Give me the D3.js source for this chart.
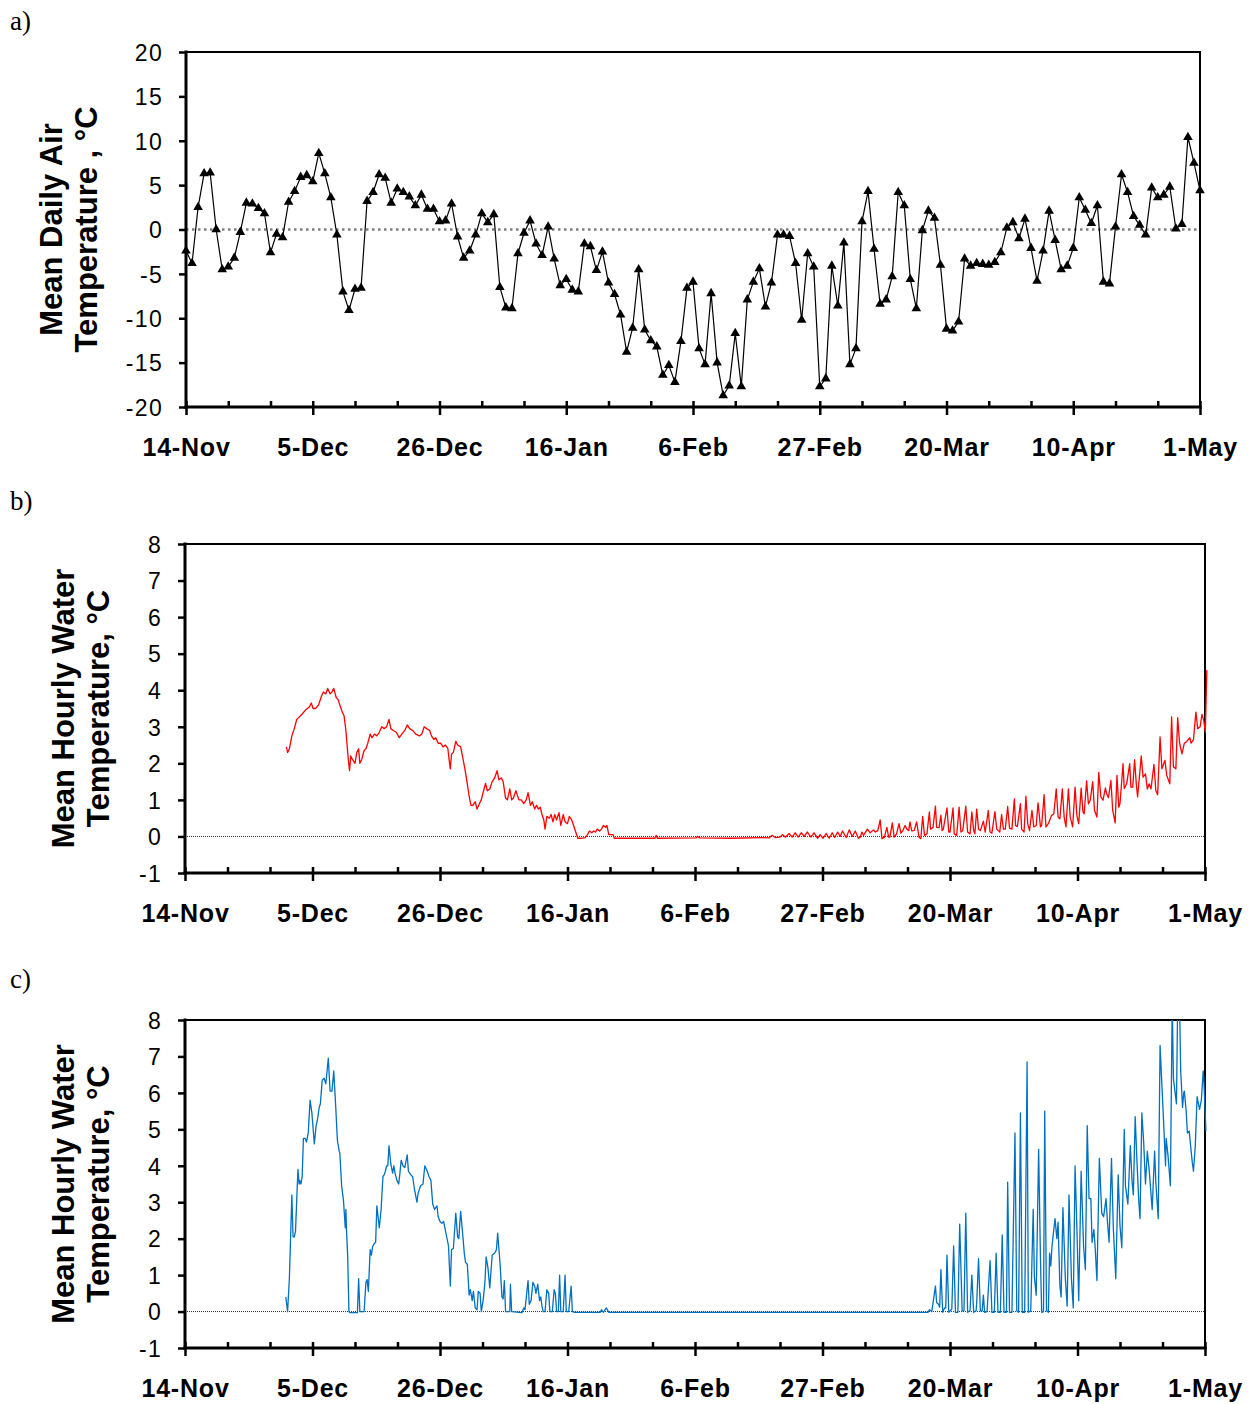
<!DOCTYPE html>
<html>
<head>
<meta charset="utf-8">
<script src="https://cdn.jsdelivr.net/npm/d3@7"></script>
<style>
  body { margin: 0; background: #fff; }
  svg text { font-family: Arial, "Liberation Sans", sans-serif; fill: #000; }
</style>
</head>
<body>
<svg id="chart" width="1251" height="1404"></svg>
<script>
// x axis: days since 14-Nov
var dayTicks = [0, 21, 42, 63, 84, 105, 126, 147, 168];
var dayTickLabels = ["14-Nov", "5-Dec", "26-Dec", "16-Jan", "6-Feb", "27-Feb", "20-Mar", "10-Apr", "1-May"];
var minorDayTicks = [7, 14, 28, 35, 49, 56, 70, 77, 91, 98, 112, 119, 133, 140, 154, 161];

var airTicks = [-20, -15, -10, -5, 0, 5, 10, 15, 20];
var waterTicks = [-1, 0, 1, 2, 3, 4, 5, 6, 7, 8];

// a) mean daily air temperature, one value per day from 14-Nov to 1-May
var airTemp = [
  -2.4, -3.8, 2.5, 6.3, 6.4, 0.0, -4.5, -4.2, -3.2, -0.3,
  3.0, 2.9, 2.4, 1.8, -2.6, -0.5, -0.9, 3.1, 4.3, 5.9,
  6.1, 5.4, 8.6, 6.3, 3.6, -0.6, -7.0, -9.1, -6.7, -6.6,
  3.2, 4.2, 6.2, 5.8, 3.0, 4.6, 4.2, 3.7, 2.7, 3.9,
  2.3, 2.3, 0.9, 1.0, 2.9, -0.8, -3.2, -2.4, -0.6, 1.8,
  0.8, 1.7, -6.5, -8.8, -8.9, -2.7, -0.4, 1.0, -1.6, -2.9,
  0.3, -3.3, -6.3, -5.6, -6.8, -7.0, -1.6, -1.9, -4.6, -2.5,
  -6.0, -7.3, -9.6, -13.8, -11.1, -4.5, -11.3, -12.5, -13.2, -16.4,
  -15.3, -17.2, -12.6, -6.6, -5.9, -13.4, -15.2, -7.2, -15.0, -18.7,
  -17.6, -11.7, -17.7, -7.9, -5.9, -4.4, -8.7, -6.0, -0.6, -0.6,
  -0.75, -3.8, -10.2, -2.7, -4.2, -17.7, -16.8, -4.1, -8.6, -1.5,
  -15.2, -13.4, 0.9, 4.3, -2.2, -8.4, -7.9, -5.3, 4.2, 2.7,
  -5.6, -8.9, -0.1, 2.1, 1.3, -4.0, -11.2, -11.4, -10.4, -3.3,
  -4.1, -3.8, -3.9, -4.0, -3.7, -2.6, 0.2, 0.8, -1.0, 1.2,
  -2.1, -5.8, -2.4, 2.1, -1.2, -4.5, -4.1, -2.1, 3.6, 2.2,
  0.7, 2.7, -5.9, -6.1, 0.3, 6.2, 4.2, 1.5, 0.5, -0.6,
  4.7, 3.6, 3.9, 4.8, 0.1, 0.6, 10.4, 7.5, 4.4
];

// b) mean hourly water temperature, [day since 14-Nov, degC]
var waterB = [
  [16.7,2.45],[16.9,2.3],[17.2,2.4],[17.6,2.75],[18.0,2.95],[18.4,3.2],[18.7,3.25],[19.3,3.35],[19.8,3.45],[20.5,3.55],
  [20.8,3.65],[21.1,3.5],[21.5,3.5],[22.0,3.6],[22.5,3.85],[22.8,3.95],[23.2,3.9],[23.5,4.05],[23.9,3.9],[24.2,3.95],
  [24.5,4.05],[24.9,3.8],[25.2,3.75],[25.6,3.55],[25.9,3.4],[26.2,3.3],[26.5,2.9],[26.7,2.5],[26.9,2.1],[27.1,1.8],
  [27.3,2.2],[27.6,2.1],[28.0,2.0],[28.3,2.3],[28.6,2.4],[28.8,2.0],[29.1,2.1],[29.5,2.35],[29.8,2.4],[30.1,2.55],
  [30.5,2.8],[30.8,2.7],[31.2,2.8],[31.6,2.75],[32.0,2.85],[32.4,3.0],[32.8,2.95],[33.2,3.0],[33.6,3.2],[33.9,2.95],
  [34.3,2.9],[34.8,2.85],[35.3,2.7],[35.7,2.8],[36.2,2.9],[36.6,3.05],[37.0,2.95],[37.5,2.9],[38.0,2.8],[38.6,2.75],
  [39.0,2.8],[39.4,3.0],[39.8,2.95],[40.3,2.9],[40.6,2.75],[41.0,2.65],[41.3,2.7],[41.7,2.55],[42.1,2.55],[42.5,2.45],
  [42.9,2.5],[43.3,2.4],[43.5,2.1],[43.7,1.85],[43.9,2.25],[44.2,2.3],[44.6,2.6],[44.9,2.5],[45.4,2.45],[45.7,2.2],
  [46.1,1.85],[46.4,1.55],[46.8,1.1],[47.1,0.85],[47.4,0.85],[47.8,0.95],[48.1,0.75],[48.5,0.9],[48.8,1.0],[49.1,1.2],
  [49.5,1.45],[49.8,1.25],[50.2,1.3],[50.6,1.5],[51.0,1.6],[51.4,1.8],[51.7,1.55],[52.1,1.6],[52.4,1.5],[52.8,1.05],
  [53.1,1.0],[53.5,1.3],[53.8,1.0],[54.1,1.05],[54.5,1.25],[55.0,1.0],[55.4,1.0],[55.8,0.9],[56.2,1.0],[56.5,1.2],
  [56.9,0.85],[57.2,0.95],[57.6,0.75],[57.9,0.85],[58.2,0.75],[58.5,0.8],[58.8,0.6],[59.1,0.45],[59.3,0.2],[59.6,0.55],
  [60.0,0.5],[60.3,0.6],[60.6,0.4],[60.9,0.6],[61.2,0.45],[61.6,0.65],[61.9,0.3],[62.3,0.6],[62.6,0.4],[63.0,0.35],
  [63.3,0.55],[63.7,0.45],[64.0,0.3],[64.3,0.15],[64.7,-0.05],[65.2,-0.05],[65.9,-0.03],[66.3,0.05],[66.6,0.15],[67.0,0.1],
  [67.3,0.15],[67.6,0.12],[67.9,0.2],[68.3,0.15],[68.6,0.2],[68.9,0.3],[69.3,0.25],[69.5,0.3],[69.8,0.05],[70.1,0.05],
  [70.5,0.05],[70.7,-0.05],[77.4,-0.05],[77.6,0.03],[77.8,-0.05],[84.2,-0.04],[84.4,0.0],[84.8,-0.04],[90.0,-0.05],[95.0,-0.03],
  [96.2,-0.04],[96.7,0.03],[97.2,-0.03],[98.0,-0.02],[98.4,0.05],[98.9,-0.02],[99.5,0.08],[100.0,-0.02],[100.5,0.1],[101.0,-0.02],
  [101.5,0.1],[102.0,0.0],[102.5,0.12],[103.1,-0.02],[103.6,0.1],[104.2,-0.05],[104.6,0.05],[105.1,-0.05],[105.6,0.08],[106.1,-0.05],
  [106.6,0.1],[107.0,-0.03],[107.5,0.12],[107.9,0.0],[108.3,0.15],[108.9,-0.03],[109.4,0.18],[109.9,0.0],[110.4,0.15],[110.9,-0.05],
  [111.2,-0.02],[111.5,0.12],[111.75,0.03],[112.4,0.2],[112.85,0.1],[113.4,0.18],[113.7,0.12],[114.1,0.16],[114.5,0.45],[114.8,-0.06],
  [115.2,-0.02],[115.6,0.25],[115.9,-0.02],[116.1,-0.02],[116.5,0.37],[116.8,-0.02],[117.2,0.07],[117.6,0.35],[117.9,0.09],[118.2,0.15],
  [118.6,0.3],[118.9,0.2],[119.2,0.16],[119.4,0.4],[119.7,0.15],[120.1,0.16],[120.5,0.4],[120.9,-0.02],[121.2,-0.06],[121.5,0.55],
  [121.8,0.03],[122.2,0.07],[122.6,0.67],[122.8,0.2],[123.2,0.24],[123.6,0.83],[123.8,0.25],[124.2,0.24],[124.5,0.58],[124.7,0.16],
  [124.9,0.2],[125.5,0.78],[125.8,0.12],[126.0,0.12],[126.5,0.78],[126.7,0.07],[127.1,0.03],[127.5,0.8],[127.8,0.12],[128.1,0.16],
  [128.6,0.83],[128.9,0.12],[129.3,0.07],[129.6,0.67],[129.9,0.16],[130.1,0.07],[130.4,0.75],[130.7,0.2],[131.0,0.16],[131.5,0.42],
  [131.8,0.12],[132.3,0.71],[132.6,0.12],[132.9,0.09],[133.4,0.68],[133.7,0.2],[134.2,0.12],[134.5,0.6],[134.8,0.2],[135.1,0.2],
  [135.5,0.82],[135.8,0.23],[136.2,0.2],[136.6,1.03],[136.8,0.3],[137.1,0.27],[137.6,0.9],[137.8,0.2],[138.2,0.12],[138.5,1.1],
  [138.8,0.35],[139.1,0.16],[139.5,0.71],[139.8,0.26],[140.2,0.3],[140.5,0.92],[140.9,0.26],[141.1,0.3],[141.5,1.14],[141.8,0.26],
  [142.2,0.35],[142.7,0.57],[143.1,0.62],[143.5,1.3],[143.8,0.53],[144.1,0.48],[144.5,1.3],[144.8,0.53],[145.1,0.26],[145.5,1.3],
  [145.8,0.53],[146.2,0.26],[146.6,1.35],[146.9,0.57],[147.2,0.35],[147.6,1.32],[147.9,0.67],[148.1,0.62],[148.5,1.52],[148.8,0.89],
  [149.1,0.99],[149.5,1.5],[149.8,0.71],[150.2,0.53],[150.5,1.75],[150.85,1.08],[151.2,0.99],[151.6,1.33],[151.8,1.17],[152.1,1.06],
  [152.5,1.53],[152.8,0.71],[153.2,0.37],[153.5,1.67],[153.8,0.8],[154.0,0.9],[154.5,1.99],[154.7,1.31],[155.1,1.44],[155.6,1.99],
  [155.8,1.35],[156.1,1.35],[156.4,2.1],[156.7,1.4],[156.9,1.08],[157.5,2.2],[157.8,1.62],[158.2,1.71],[158.5,1.3],[158.8,1.44],
  [159.1,1.3],[159.6,1.97],[159.9,1.26],[160.2,1.14],[160.6,2.72],[160.9,1.85],[161.2,1.99],[161.4,2.08],[161.7,1.67],[162.2,1.44],
  [162.5,3.27],[162.8,1.9],[163.2,1.85],[163.5,3.25],[163.8,2.57],[164.2,2.26],[164.6,2.55],[165.0,2.6],[165.5,2.7],[165.7,2.55],
  [166.1,2.65],[166.5,3.4],[166.8,2.95],[167.2,3.0],[167.5,3.34],[167.8,3.17],[168.05,2.85],[168.3,4.55]
];

// c) mean hourly water temperature, [day since 14-Nov, degC]
var waterC = [
  [16.6,0.4],[16.9,0.0],[17.2,0.95],[17.6,3.2],[17.8,2.05],[18.0,2.05],[18.2,2.2],[18.6,3.9],[18.8,3.5],[18.9,3.6],
  [19.1,3.5],[19.3,3.7],[19.5,4.75],[19.8,4.75],[20.0,4.65],[20.3,4.9],[20.6,5.8],[20.9,5.45],[21.3,4.6],[21.6,5.1],
  [21.8,5.25],[22.1,5.6],[22.3,5.7],[22.6,6.35],[22.9,6.4],[23.2,6.25],[23.6,6.95],[23.9,6.05],[24.2,6.05],[24.5,6.6],
  [24.8,5.7],[25.1,4.7],[25.4,4.4],[25.5,4.35],[25.8,3.45],[26.1,3.05],[26.4,2.3],[26.5,2.8],[26.6,2.25],[26.8,1.5],
  [27.0,0.0],[27.2,-0.03],[28.2,-0.03],[28.4,-0.03],[28.6,0.9],[28.8,0.0],[29.5,0.0],[29.8,0.8],[30.0,0.88],[30.2,0.55],
  [30.5,1.7],[30.7,1.55],[30.9,1.78],[31.1,1.85],[31.4,1.9],[31.6,2.9],[32.0,2.3],[32.3,2.8],[32.6,3.7],[32.8,3.75],
  [33.0,3.85],[33.2,4.0],[33.4,4.0],[33.6,4.55],[33.9,4.05],[34.2,3.8],[34.4,4.0],[34.6,3.8],[34.9,3.6],[35.2,3.5],
  [35.4,3.8],[35.6,4.15],[35.9,4.0],[36.2,3.95],[36.6,4.3],[36.8,3.85],[37.2,3.75],[37.5,3.7],[37.8,3.35],[38.2,3.0],
  [38.4,3.25],[38.8,3.45],[39.2,3.5],[39.5,4.0],[39.9,3.85],[40.2,3.7],[40.5,3.6],[40.8,2.95],[41.1,2.8],[41.5,2.9],
  [41.7,2.6],[42.0,2.47],[42.3,2.42],[42.6,2.47],[42.8,2.3],[43.1,2.05],[43.4,1.8],[43.7,0.7],[43.9,1.7],[44.2,1.73],
  [44.6,2.7],[44.9,2.05],[45.1,2.0],[45.4,2.75],[45.7,2.2],[46.0,1.6],[46.2,1.35],[46.5,1.3],[46.8,0.45],[47.0,0.6],
  [47.3,0.3],[47.5,0.55],[47.8,0.1],[48.1,0.05],[48.3,0.55],[48.6,0.5],[48.8,0.0],[49.1,0.3],[49.4,0.8],[49.6,1.5],
  [49.9,1.2],[50.2,0.65],[50.6,1.55],[51.0,1.6],[51.3,1.7],[51.5,2.15],[51.9,1.3],[52.2,0.4],[52.4,0.35],[52.6,0.85],
  [52.8,0.0],[53.5,0.0],[53.6,0.75],[53.8,0.0],[55.5,-0.03],[55.8,0.1],[56.0,0.05],[56.5,0.85],[56.7,0.2],[57.0,0.3],
  [57.3,0.8],[57.6,0.7],[57.8,0.5],[58.1,0.75],[58.4,0.3],[58.6,0.4],[58.8,0.15],[59.0,0.0],[59.3,0.0],[59.6,0.6],
  [59.9,0.5],[60.1,0.0],[60.5,0.0],[60.8,0.6],[61.0,0.5],[61.2,0.0],[61.5,0.0],[61.7,1.0],[61.9,0.0],[62.3,0.0],
  [62.6,1.0],[62.8,0.0],[63.2,0.0],[63.6,0.7],[63.8,0.0],[64.2,-0.02],[68.4,-0.02],[68.6,0.05],[68.9,-0.02],[69.4,0.1],
  [69.8,-0.02],[122.4,-0.02],[122.6,0.05],[123.0,0.0],[123.6,0.7],[123.8,0.25],[124.1,0.2],[124.3,0.12],[124.5,1.15],[124.8,-0.02],
  [125.1,0.1],[125.3,0.1],[125.5,1.55],[125.8,-0.02],[126.3,0.07],[126.6,1.8],[126.9,-0.02],[127.3,-0.02],[127.6,2.4],[128.0,0.02],
  [128.3,0.02],[128.6,2.7],[128.9,-0.02],[129.3,0.02],[129.6,1.0],[129.9,-0.02],[130.3,0.02],[130.4,0.25],[130.7,1.45],[131.0,0.02],
  [131.3,0.02],[131.5,0.45],[131.7,-0.02],[132.1,0.0],[132.6,1.4],[132.9,-0.02],[133.3,-0.02],[133.6,1.6],[133.9,-0.02],[134.3,-0.02],
  [134.6,2.1],[134.9,-0.02],[135.3,-0.02],[135.5,3.55],[135.8,-0.02],[136.2,-0.02],[136.7,4.9],[137.0,0.02],[137.3,-0.02],[137.6,5.45],
  [137.9,-0.02],[138.3,-0.02],[138.7,6.85],[138.9,-0.02],[139.3,0.02],[139.7,2.8],[139.9,0.95],[140.2,0.45],[140.6,4.45],[140.9,1.45],
  [141.1,-0.02],[141.4,0.0],[141.6,5.5],[141.9,0.02],[142.2,-0.02],[142.4,1.6],[142.6,1.25],[142.8,1.8],[143.3,2.55],[143.6,2.0],
  [143.8,2.45],[144.1,0.7],[144.3,0.4],[144.6,2.85],[145.0,0.9],[145.3,0.15],[145.6,3.2],[146.0,0.9],[146.3,0.1],[146.6,4.0],
  [146.9,2.3],[147.2,0.3],[147.6,3.85],[148.0,1.8],[148.3,1.15],[148.6,5.1],[148.9,3.1],[149.2,3.1],[149.4,1.9],[149.7,2.25],
  [149.9,1.8],[150.2,0.85],[150.6,4.2],[151.0,2.7],[151.3,2.6],[151.7,3.1],[151.9,2.55],[152.2,1.9],[152.6,4.2],[152.9,2.3],
  [153.3,0.9],[153.7,3.75],[154.0,2.35],[154.3,1.75],[154.7,5.0],[154.9,3.45],[155.3,2.95],[155.7,4.55],[156.0,3.55],[156.2,3.2],
  [156.5,5.35],[156.8,4.1],[157.1,3.0],[157.3,2.55],[157.6,5.45],[157.9,4.65],[158.2,3.5],[158.5,4.4],[158.8,3.9],[159.3,2.8],
  [159.7,4.4],[159.9,3.55],[160.3,2.55],[160.6,7.3],[161.1,5.5],[161.5,4.0],[161.6,4.75],[161.9,4.3],[162.3,3.45],[162.6,8.5],
  [162.8,6.4],[163.3,5.7],[163.5,8.5],[163.8,8.5],[164.0,6.6],[164.3,5.6],[164.5,6.0],[164.6,6.05],[164.9,5.5],[165.1,4.9],
  [165.4,4.95],[165.6,4.6],[165.9,4.1],[166.1,3.85],[166.4,4.55],[166.7,5.9],[166.8,5.8],[167.1,5.55],[167.4,5.8],[167.7,6.6],
  [167.8,6.4],[168.0,5.6],[168.15,4.95]
];

var svg = d3.select("#chart");

var panels = [
  { letter: "a)", letterY: 30, left: 186, top: 52, right: 1200, bottom: 407,
    yDomain: [-20, 20], yTicks: airTicks,
    title: ["Mean Daily Air", "Temperature , \u00b0C"], titleX: [62, 97] },
  { letter: "b)", letterY: 510, left: 185, top: 544, right: 1205, bottom: 873,
    yDomain: [-1, 8], yTicks: waterTicks,
    title: ["Mean Hourly Water", "Temperature, \u00b0C"], titleX: [74, 109] },
  { letter: "c)", letterY: 988, left: 185, top: 1020, right: 1205, bottom: 1348,
    yDomain: [-1, 8], yTicks: waterTicks,
    title: ["Mean Hourly Water", "Temperature, \u00b0C"], titleX: [74, 109] }
];

function drawPanel(p, i) {
  var w = p.right - p.left,
      h = p.bottom - p.top;

  svg.append("text")
      .attr("x", 10)
      .attr("y", p.letterY)
      .style("font-family", "'Times New Roman', 'Liberation Serif', serif")
      .style("font-size", "27px")
      .text(p.letter);

  var g = svg.append("g")
      .attr("transform", "translate(" + p.left + "," + p.top + ")");

  var x = d3.scaleLinear().domain([0, 168]).range([0, w]);
  var y = d3.scaleLinear().domain(p.yDomain).range([h, 0]);

  // y axis (ticks outside)
  var yAxis = g.append("g")
      .call(d3.axisLeft(y).tickValues(p.yTicks).tickSize(7).tickPadding(16)
        .tickFormat(function(d){ return String(d); }));
  yAxis.select(".domain").remove();
  yAxis.selectAll("line").attr("stroke", "#000").attr("stroke-width", 2.5);
  yAxis.selectAll("text")
      .style("font-size", "23px")
      .style("letter-spacing", "1.3px")
      .attr("dy", "0.36em");

  // minor x ticks, inside only
  var xMinor = g.append("g")
      .attr("transform", "translate(0," + h + ")")
      .call(d3.axisBottom(x).tickValues(minorDayTicks).tickSize(-6).tickFormat(""));
  xMinor.select(".domain").remove();
  xMinor.selectAll("line").attr("stroke", "#000").attr("stroke-width", 2.5);

  // major x ticks, crossing the axis
  var xMajor = g.append("g")
      .attr("transform", "translate(0," + h + ")")
      .call(d3.axisBottom(x).tickValues(dayTicks).tickSize(8).tickPadding(23)
        .tickFormat(function(d, k){ return dayTickLabels[k]; }));
  xMajor.select(".domain").remove();
  xMajor.selectAll("line").attr("y1", -6).attr("stroke", "#000").attr("stroke-width", 2.5);
  xMajor.selectAll("text")
      .style("font-size", "25px")
      .style("font-weight", "bold")
      .style("letter-spacing", "0.8px");

  // axis title
  p.title.forEach(function(t, k){
    svg.append("text")
        .attr("transform", "translate(" + p.titleX[k] + "," + (p.top + h / 2) + ") rotate(-90)")
        .attr("text-anchor", "middle")
        .style("font-size", "31px")
        .style("font-weight", "bold")
        .text(t);
  });

  // zero line
  var zero = g.append("line")
      .attr("x1", 0).attr("x2", w)
      .attr("y1", y(0)).attr("y2", y(0));
  if (i === 0) {
    zero.attr("stroke", "#7f7f7f").attr("stroke-width", 2.5).attr("stroke-dasharray", "2.5,3.5");
  } else {
    zero.attr("stroke", "#333").attr("stroke-width", 1).attr("stroke-dasharray", "1,1");
  }

  g.append("clipPath")
      .attr("id", "clip" + i)
    .append("rect")
      .attr("x", 0).attr("y", 0)
      .attr("width", w + 4).attr("height", h);

  return { g: g, x: x, y: y, w: w, h: h, clip: "url(#clip" + i + ")" };
}

function drawFrame(c) {
  var frame = c.g.append("g").attr("stroke", "#000").attr("stroke-linecap", "square");
  frame.append("line").attr("x1", 0).attr("x2", c.w).attr("y1", 0).attr("y2", 0).attr("stroke-width", 2);
  frame.append("line").attr("x1", c.w).attr("x2", c.w).attr("y1", 0).attr("y2", c.h).attr("stroke-width", 2);
  frame.append("line").attr("x1", 0).attr("x2", 0).attr("y1", 0).attr("y2", c.h).attr("stroke-width", 3);
  frame.append("line").attr("x1", 0).attr("x2", c.w).attr("y1", c.h).attr("y2", c.h).attr("stroke-width", 3);
}

// a) air temperature
var pa = drawPanel(panels[0], 0);
var airLine = d3.line()
    .x(function(d, i){ return pa.x(i); })
    .y(function(d){ return pa.y(d); });
pa.g.append("path")
    .datum(airTemp)
    .attr("fill", "none")
    .attr("stroke", "#000")
    .attr("stroke-width", 1.2)
    .attr("d", airLine);
pa.g.selectAll(".marker")
    .data(airTemp)
    .enter()
      .append("path")
      .attr("class", "marker")
      .attr("d", d3.symbol().type(d3.symbolTriangle).size(40))
      .attr("transform", function(d, i){ return "translate(" + pa.x(i) + "," + pa.y(d) + ")"; })
      .attr("fill", "#000");
drawFrame(pa);

// b) and c) water temperature
function drawWater(c, data, color) {
  var line = d3.line()
      .x(function(d){ return c.x(d[0]); })
      .y(function(d){ return c.y(d[1]); });
  drawFrame(c);
  c.g.append("path")
      .datum(data)
      .attr("clip-path", c.clip)
      .attr("fill", "none")
      .attr("stroke", color)
      .attr("stroke-width", 1.3)
      .attr("stroke-linejoin", "round")
      .attr("d", line);
}

var pb = drawPanel(panels[1], 1);
drawWater(pb, waterB, "#ff0000");

var pc = drawPanel(panels[2], 2);
drawWater(pc, waterC, "#0070c0");
</script>
</body>
</html>
